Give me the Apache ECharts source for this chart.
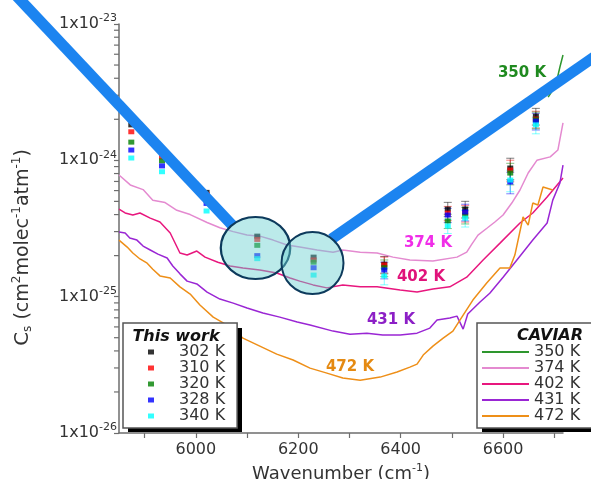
<!DOCTYPE html>
<html>
<head>
<meta charset="utf-8">
<script src="https://cdn.jsdelivr.net/npm/echarts@6.0.0/dist/echarts.min.js"></script>
<style>
  html, body { margin: 0; padding: 0; background: #ffffff; }
  #chart { width: 591px; height: 479px; }
</style>
</head>
<body>
<div id="chart"></div>
<script>
// Collision-induced absorption coefficient C_s vs wavenumber
const FONT = 'DejaVu Sans';

// values are plotted in units of 1e-26 cm^2 molec^-1 atm^-1 so the log axis works on 1..1000
const Y_UNIT = 1e-26;
const Y_UNIT_EXP = -26;

// axis ranges
const xMin = 5850, xMax = 6717;
const yMin = 1e-26, yMax = 1e-23;

// tick positions and labels
const xTickValues = [5900, 6000, 6100, 6200, 6300, 6400, 6500, 6600, 6700];
const xLabelValues = [6000, 6200, 6400, 6600];
const yMinorTickValues = [
  2e-26, 3e-26, 4e-26, 5e-26, 6e-26, 7e-26, 8e-26, 9e-26,
  2e-25, 3e-25, 4e-25, 5e-25, 6e-25, 7e-25, 8e-25, 9e-25,
  2e-24, 3e-24, 4e-24, 5e-24, 6e-24, 7e-24, 8e-24, 9e-24
];

// "This work" measurements (cm^2 molec^-1 atm^-1)
const wavenumbers = [5874, 5934, 6021, 6120, 6230, 6368, 6492, 6526, 6614, 6664];
const cs302 = [1.82e-24, 1.15e-24, 5.82e-25, 2.78e-25, 1.95e-25, 1.73e-25, 4.39e-25, 4.39e-25, 8.78e-25, 2.11e-24];
const cs310 = [1.62e-24, 1.06e-24, 5.61e-25, 2.63e-25, 1.86e-25, 1.71e-25, 4.10e-25, 4.10e-25, 8.49e-25, 2.01e-24];
const cs320 = [1.36e-24, 9.9e-25, 5.41e-25, 2.38e-25, 1.79e-25, 1.63e-25, 3.59e-25, 3.97e-25, 8.06e-25, 1.98e-24];
const cs328 = [1.19e-24, 9.1e-25, 4.83e-25, 2.0e-25, 1.63e-25, 1.57e-25, 3.97e-25, 4.18e-25, 6.93e-25, 1.94e-24];
const cs340 = [1.04e-24, 8.25e-25, 4.25e-25, 1.90e-25, 1.44e-25, 1.42e-25, 3.30e-25, 3.77e-25, 7.17e-25, 1.82e-24];
// relative uncertainty per wavenumber
const relErr = [0, 0, 0, 0, 0, 0.14, 0.12, 0.14, 0.18, 0.14];

// CAVIAR continuum curves: [wavenumber, C_s]
const caviar350 = [[6688, 2.91e-24], [6697, 3.28e-24], [6705, 3.88e-24], [6711, 4.84e-24], [6717, 5.93e-24]];
const caviar374 = [
  [5850, 7.8e-25], [5872, 6.6e-25], [5897, 6.1e-25], [5916, 5.1e-25], [5940, 4.9e-25], [5963, 4.3e-25],
  [5989, 4.0e-25], [6022, 3.5e-25], [6047, 3.2e-25], [6073, 3.0e-25], [6100, 2.83e-25], [6125, 2.78e-25],
  [6151, 2.6e-25], [6178, 2.39e-25], [6203, 2.31e-25], [6237, 2.2e-25], [6268, 2.12e-25], [6287, 2.2e-25],
  [6321, 2.12e-25], [6354, 2.09e-25], [6385, 1.95e-25], [6418, 1.86e-25], [6463, 1.83e-25], [6510, 1.95e-25],
  [6529, 2.12e-25], [6539, 2.43e-25], [6551, 2.83e-25], [6569, 3.19e-25], [6584, 3.53e-25], [6600, 3.97e-25],
  [6617, 4.86e-25], [6633, 6.06e-25], [6649, 8.07e-25], [6666, 1.0e-24], [6692, 1.06e-24], [6707, 1.19e-24],
  [6717, 1.88e-24]
];
const caviar402 = [
  [5850, 4.39e-25], [5862, 4.11e-25], [5877, 3.97e-25], [5891, 4.11e-25], [5911, 3.77e-25], [5930, 3.53e-25],
  [5950, 2.93e-25], [5969, 2.09e-25], [5983, 2.02e-25], [6002, 2.16e-25], [6018, 1.95e-25], [6043, 1.79e-25],
  [6067, 1.68e-25], [6092, 1.62e-25], [6125, 1.57e-25], [6158, 1.49e-25], [6184, 1.37e-25], [6203, 1.30e-25],
  [6229, 1.22e-25], [6256, 1.16e-25], [6287, 1.22e-25], [6321, 1.18e-25], [6354, 1.18e-25], [6399, 1.12e-25],
  [6432, 1.08e-25], [6463, 1.14e-25], [6496, 1.18e-25], [6529, 1.39e-25], [6561, 1.86e-25], [6594, 2.47e-25],
  [6633, 3.47e-25], [6658, 4.11e-25], [6686, 5.38e-25], [6717, 7.42e-25]
];
const caviar431 = [
  [5850, 2.98e-25], [5862, 2.93e-25], [5871, 2.69e-25], [5885, 2.60e-25], [5897, 2.35e-25], [5911, 2.20e-25],
  [5926, 2.05e-25], [5944, 1.92e-25], [5955, 1.68e-25], [5969, 1.47e-25], [5983, 1.30e-25], [6002, 1.24e-25],
  [6022, 1.08e-25], [6047, 9.6e-26], [6073, 8.97e-26], [6100, 8.25e-26], [6131, 7.58e-26], [6164, 7.08e-26],
  [6198, 6.51e-26], [6223, 6.19e-26], [6268, 5.59e-26], [6301, 5.31e-26], [6334, 5.40e-26], [6365, 5.23e-26],
  [6399, 5.23e-26], [6432, 5.40e-26], [6457, 5.88e-26], [6471, 6.74e-26], [6496, 6.97e-26], [6510, 7.20e-26],
  [6522, 5.78e-26], [6531, 7.46e-26], [6555, 9.13e-26], [6574, 1.06e-25], [6600, 1.39e-25], [6627, 1.86e-25],
  [6658, 2.60e-25], [6686, 3.47e-25], [6697, 5.11e-25], [6711, 6.82e-25], [6717, 9.24e-25]
];
const caviar472 = [
  [5850, 2.60e-25], [5866, 2.31e-25], [5877, 2.09e-25], [5891, 1.89e-25], [5905, 1.76e-25], [5916, 1.59e-25],
  [5930, 1.42e-25], [5950, 1.37e-25], [5969, 1.18e-25], [5989, 1.045e-25], [6008, 8.68e-26], [6034, 7.08e-26],
  [6061, 6.19e-26], [6092, 4.97e-26], [6125, 4.34e-26], [6158, 3.79e-26], [6190, 3.43e-26], [6223, 2.99e-26],
  [6256, 2.75e-26], [6287, 2.53e-26], [6321, 2.44e-26], [6360, 2.57e-26], [6393, 2.80e-26], [6418, 3.04e-26],
  [6432, 3.20e-26], [6444, 3.73e-26], [6463, 4.34e-26], [6483, 4.97e-26], [6502, 5.59e-26], [6522, 7.33e-26],
  [6541, 9.44e-26], [6568, 1.26e-25], [6594, 1.62e-25], [6613, 1.62e-25], [6623, 2.02e-25], [6639, 3.84e-25],
  [6649, 3.35e-25], [6658, 4.86e-25], [6668, 4.70e-25], [6678, 6.37e-25], [6697, 6.06e-25]
];

const thisWork = [
  { name: '302 K', color: '#000000', values: cs302 },
  { name: '310 K', color: '#ff0000', values: cs310 },
  { name: '320 K', color: '#008000', values: cs320 },
  { name: '328 K', color: '#0000ff', values: cs328 },
  { name: '340 K', color: '#00ffff', values: cs340 }
];
const caviar = [
  { name: '350 K', color: '#2e962e', labelColor: '#1f8a1f', data: caviar350 },
  { name: '374 K', color: '#e48ad0', labelColor: '#f02ee8', data: caviar374 },
  { name: '402 K', color: '#e8177e', labelColor: '#e0137a', data: caviar402 },
  { name: '431 K', color: '#9a26d4', labelColor: '#8c1fc6', data: caviar431 },
  { name: '472 K', color: '#ee8f18', labelColor: '#e58a12', data: caviar472 }
];

function toUnit(v) { return v / Y_UNIT; }

function errorBarItem(color) {
  return function (params, api) {
    const w = api.value(0), v = api.value(1), e = api.value(2);
    if (!e) return null;
    const top = api.coord([w, v * (1 + e)]);
    const bot = api.coord([w, v * (1 - e)]);
    const half = 4;
    const style = { stroke: color, lineWidth: 1, opacity: 0.5 };
    return {
      type: 'group',
      children: [
        { type: 'line', shape: { x1: top[0], y1: top[1], x2: bot[0], y2: bot[1] }, style: style },
        { type: 'line', shape: { x1: top[0] - half, y1: top[1], x2: top[0] + half, y2: top[1] }, style: style },
        { type: 'line', shape: { x1: bot[0] - half, y1: bot[1], x2: bot[0] + half, y2: bot[1] }, style: style }
      ]
    };
  };
}

const supRich = {
  n: { fontFamily: FONT, fontSize: 16, color: '#333' },
  sup: { fontFamily: FONT, fontSize: 11, color: '#333', padding: [0, 0, 11, 0] }
};
const titleRich = {
  n: { fontFamily: FONT, fontSize: 19, color: '#333' },
  sup: { fontFamily: FONT, fontSize: 12, color: '#333', padding: [0, 0, 12, 0] },
  sub: { fontFamily: FONT, fontSize: 12, color: '#333', padding: [10, 0, 0, 0] },
  c: { fontFamily: FONT, fontSize: 20, color: '#333' }
};

const series = [];
caviar.forEach(function (c) {
  series.push({
    type: 'line', name: c.name, symbol: 'none', showSymbol: false,
    data: c.data.map(function (p) { return [p[0], toUnit(p[1])]; }),
    lineStyle: { width: 1.5, color: c.color }, itemStyle: { color: c.color }, z: 2, silent: true
  });
});
thisWork.forEach(function (t) {
  series.push({
    type: 'custom', name: t.name + ' error', renderItem: errorBarItem(t.color), silent: true, z: 3,
    data: wavenumbers.map(function (w, i) { return [w, toUnit(t.values[i]), relErr[i]]; })
  });
});
thisWork.forEach(function (t) {
  series.push({
    type: 'scatter', name: t.name, symbol: 'rect', symbolSize: [6, 5], z: 4, silent: true,
    itemStyle: { color: t.color },
    data: wavenumbers.map(function (w, i) { return [w, toUnit(t.values[i])]; })
  });
});
// logarithmic minor ticks on the y axis
series.push({
  type: 'custom', name: 'y minor ticks', silent: true, z: 5,
  data: yMinorTickValues.map(function (v) { return [xMin, toUnit(v)]; }),
  renderItem: function (params, api) {
    const p = api.coord([api.value(0), api.value(1)]);
    return { type: 'line', shape: { x1: p[0] - 5, y1: p[1], x2: p[0], y2: p[1] }, style: { stroke: '#6e6e6e', lineWidth: 1.2 } };
  }
});

const legendBox = {
  orient: 'vertical', top: 323, itemGap: 0, selectedMode: false, z: 6,
  backgroundColor: '#ffffff', borderColor: '#555555', borderWidth: 1.5, borderRadius: 0
};
const axisGrey = '#6e6e6e';

const option = {
  animation: false,
  backgroundColor: '#ffffff',
  grid: { left: 119, right: 28, top: 24, bottom: 46, containLabel: false, outerBoundsMode: 'none' },
  xAxis: {
    type: 'value', min: xMin, max: xMax,
    name: '{n|Wavenumber (cm}{sup|-1}{n|)}', nameLocation: 'middle', nameGap: 30,
    nameTextStyle: { rich: { n: { fontFamily: FONT, fontSize: 18, color: '#333' }, sup: { fontFamily: FONT, fontSize: 11, color: '#333', padding: [0, 0, 11, 0] } } },
    axisLine: { show: true, lineStyle: { color: axisGrey, width: 1.5 } },
    axisTick: { show: true, customValues: xTickValues, length: 5, lineStyle: { color: axisGrey, width: 1.2 } },
    splitLine: { show: false },
    axisLabel: {
      customValues: xLabelValues, margin: 9,
      fontFamily: FONT, fontSize: 16, color: '#333',
      formatter: function (v) { return String(Math.round(v)); }
    }
  },
  yAxis: {
    type: 'log', logBase: 10, min: toUnit(yMin), max: toUnit(yMax),
    name: '{c|C}{sub|s}{n| (cm}{sup|2}{n|molec}{sup|-1}{n|atm}{sup|-1}{n|)}',
    nameLocation: 'middle', nameGap: 84, nameRotate: 90, nameMoveOverlap: false,
    nameTextStyle: { rich: titleRich, padding: [0, 38, 0, 0] },
    axisLine: { show: true, lineStyle: { color: axisGrey, width: 1.5 } },
    axisTick: { show: true, length: 5, lineStyle: { color: axisGrey, width: 1.2 } },
    splitLine: { show: false },
    axisLabel: {
      margin: 2, showMinLabel: true, showMaxLabel: true,
      formatter: function (v) {
        const e = Math.round(Math.log10(v)) + Y_UNIT_EXP;
        return isFinite(e) ? '{n|1x10}{sup|' + e + '}' : '';
      },
      rich: supRich
    }
  },
  legend: [
    Object.assign({}, legendBox, {
      left: 123, padding: [21, 12, 4, 25],
      data: thisWork.map(function (t) { return t.name; }),
      icon: 'rect', itemWidth: 6, itemHeight: 5,
      textStyle: { fontFamily: FONT, fontSize: 16, color: '#333', lineHeight: 15.6, padding: [0, 0, 0, 20] }
    }),
    Object.assign({}, legendBox, {
      left: 477, padding: [21, 20, 4, 5],
      data: caviar.map(function (c) { return c.name; }),
      icon: 'rect', itemWidth: 47, itemHeight: 2,
      textStyle: { fontFamily: FONT, fontSize: 16, color: '#333', lineHeight: 15.6 }
    })
  ],
  series: series,
  graphic: [
    // drop shadows behind the two legend boxes
    { type: 'rect', z: 5, shape: { x: 128, y: 328, width: 114, height: 104 }, style: { fill: '#000000' } },
    { type: 'rect', z: 5, shape: { x: 482, y: 328, width: 130, height: 104 }, style: { fill: '#000000' } },
    // highlighted regions
    { type: 'line', z: 20, shape: { x1: 10, y1: -11, x2: 232.5, y2: 225.5 }, style: { stroke: '#1c84f0', lineWidth: 11 } },
    { type: 'line', z: 20, shape: { x1: 331.5, y1: 239, x2: 602, y2: 51.5 }, style: { stroke: '#1c84f0', lineWidth: 11 } },
    { type: 'circle', z: 21, x: 255.5, y: 248, scaleX: 1.12, shape: { cx: 0, cy: 0, r: 31 },
      style: { fill: 'rgba(105,208,208,0.45)', stroke: '#0d3a5c', lineWidth: 2 } },
    { type: 'circle', z: 21, x: 312.5, y: 263, shape: { cx: 0, cy: 0, r: 31 },
      style: { fill: 'rgba(105,208,208,0.45)', stroke: '#0d3a5c', lineWidth: 2 } },
    // curve labels
    { type: 'text', z: 22, x: 522, y: 73, style: { text: '350 K', fill: caviar[0].labelColor, font: 'bold 15px "DejaVu Sans"', textAlign: 'center', textVerticalAlign: 'middle' } },
    { type: 'text', z: 22, x: 428, y: 243, style: { text: '374 K', fill: caviar[1].labelColor, font: 'bold 15px "DejaVu Sans"', textAlign: 'center', textVerticalAlign: 'middle' } },
    { type: 'text', z: 22, x: 421, y: 277, style: { text: '402 K', fill: caviar[2].labelColor, font: 'bold 15px "DejaVu Sans"', textAlign: 'center', textVerticalAlign: 'middle' } },
    { type: 'text', z: 22, x: 391, y: 320, style: { text: '431 K', fill: caviar[3].labelColor, font: 'bold 15px "DejaVu Sans"', textAlign: 'center', textVerticalAlign: 'middle' } },
    { type: 'text', z: 22, x: 350, y: 367, style: { text: '472 K', fill: caviar[4].labelColor, font: 'bold 15px "DejaVu Sans"', textAlign: 'center', textVerticalAlign: 'middle' } },
    // legend headings
    { type: 'text', z: 22, x: 176, y: 337, style: { text: 'This work', fill: '#111', font: 'italic bold 16px "DejaVu Sans"', textAlign: 'center', textVerticalAlign: 'middle' } },
    { type: 'text', z: 22, x: 550, y: 336, style: { text: 'CAVIAR', fill: '#111', font: 'italic bold 16px "DejaVu Sans"', textAlign: 'center', textVerticalAlign: 'middle' } }
  ]
};

const chart = echarts.init(document.getElementById('chart'), null, { renderer: 'canvas' });
chart.setOption(option);
</script>
</body>
</html>
